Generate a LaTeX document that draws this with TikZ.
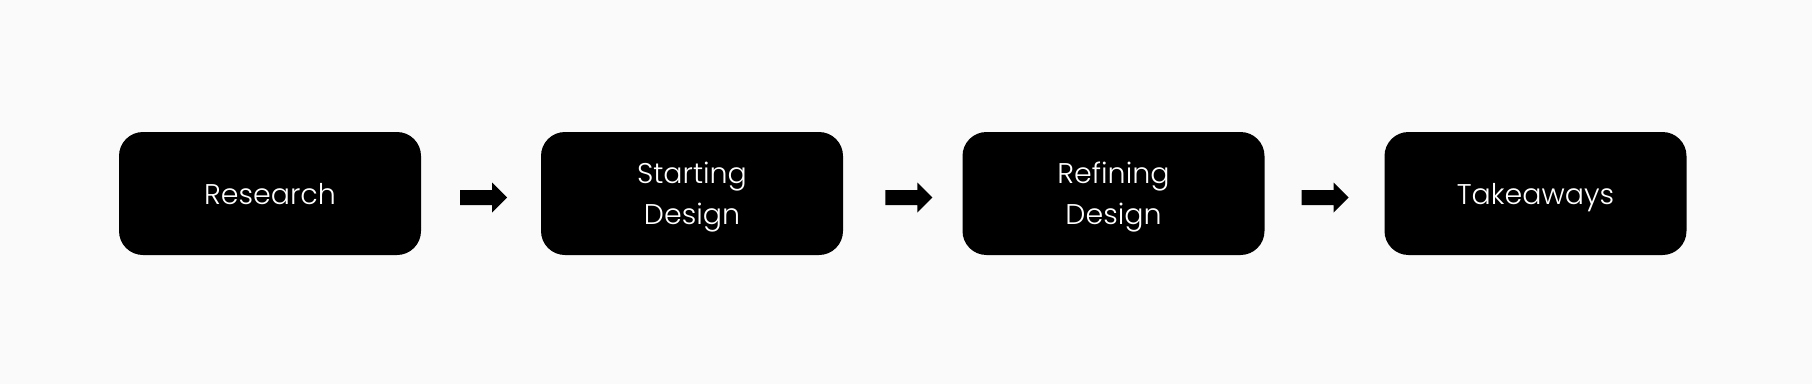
\documentclass[tikz,border=0pt]{standalone}
\usepackage{fontspec}
\setmainfont{Poppins Light}
\usetikzlibrary{calc}
\definecolor{bgcol}{HTML}{FAFAFA}
\tikzset{
  stagebox/.style={fill=black, rounded corners=24pt, minimum width=302pt, minimum height=123pt,
    inner sep=0pt},
  stagetext/.style={inner sep=0pt, text=white, align=center, font=\fontsize{28.5}{41.5}\selectfont},
  flowarrow/.pic={\fill[black] (-23.5,-7.5) -- (8.5,-7.5) -- (8.5,-15) -- (23.5,0) -- (8.5,15) -- (8.5,7.5) -- (-23.5,7.5) -- cycle;}
}
\begin{document}
\begin{tikzpicture}[x=1pt,y=1pt]
\fill[bgcol] (0,0) rectangle (1812,384);
\useasboundingbox (0,0) rectangle (1812,384);
\node[stagebox] (r) at (270,190.5) {};
\node[stagebox] (s) at (692,190.5) {};
\node[stagebox] (f) at (1113.5,190.5) {};
\node[stagebox] (t) at (1535.5,190.5) {};
\node[stagetext, anchor=base] (rt) at ($(r.center)+(0,-10.5)$) {Research};
\node[stagetext, yshift=-3.5pt] (st) at (s.center) {Starting\\Design};
\node[stagetext, yshift=-3.5pt] (ft) at (f.center) {Refining\\Design};
\node[stagetext, anchor=base] (tt) at ($(t.center)+(0,-10.5)$) {Takeaways};
\path ($(r.east)!0.5!(s.west)+(2.5,-4)$) pic {flowarrow};
\path ($(s.east)!0.5!(f.west)+(6,-4)$) pic {flowarrow};
\path ($(f.east)!0.5!(t.west)+(0.5,-4)$) pic {flowarrow};
\end{tikzpicture}
\end{document}
